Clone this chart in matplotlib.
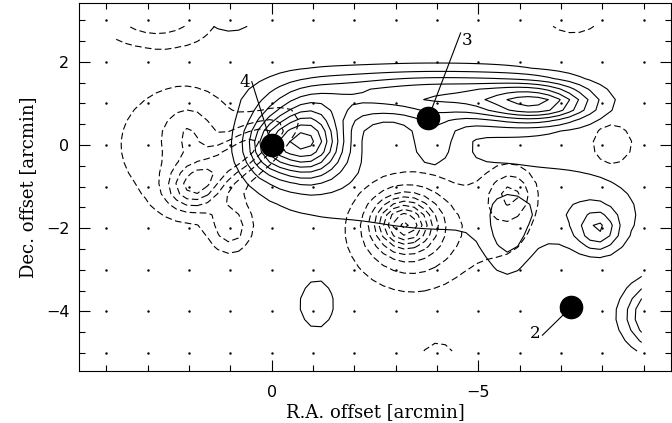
import numpy as np
import matplotlib.pyplot as plt
from matplotlib.ticker import MultipleLocator

# emission components: x0, y0, amplitude, sigma_x, sigma_y, angle(deg)
solid_x0 = [-0.85, 0.05, -0.8, -6.55, -5.8, -3.5, -3.9, -4.0, -7.9, -7.5, -5.7, -1.09, -9.6, 1.0]
solid_y0 = [0.1, 0.0, 0.1, 1.0, 1.05, 1.2, 0.1, -1.2, -2.05, -1.6, -2.3, -3.85, -4.1, 3.0]
solid_amp = [6.0, 3.0, 3.0, 4.5, 2.0, 4.5, 2.0, 1.5, 3.0, 1.3, 1.6, 1.3, 6.5, 1.5]
solid_sx = [0.55, 0.4, 1.0, 0.85, 1.2, 2.0, 0.45, 2.5, 0.35, 1.2, 0.4, 0.55, 0.65, 0.55]
solid_sy = [0.55, 0.45, 0.85, 0.3, 0.45, 0.42, 0.45, 0.9, 0.35, 0.7, 0.7, 0.75, 0.55, 0.3]
solid_ang = [0, 0, 0, 0, 0, 0, 0, 0, 0, 0, 0, 0, 0, 0]

dash_x0 = [-3.2, -3.4, -5.8, -5.7, 1.9, 0.7, 1.0, 2.2, 2.0, -8.24, 2.8, -7.3, -4.03]
dash_y0 = [-1.88, -2.1, -1.15, -1.6, -1.0, -0.15, -2.0, 0.0, 0.25, 0.02, 3.05, 3.0, -5.05]
dash_amp = [6.0, 3.5, 2.0, 1.5, 3.5, 3.8, 2.5, 1.7, 1.5, 1.3, 2.6, 1.5, 1.5]
dash_sx = [0.45, 1.0, 0.35, 0.6, 0.45, 0.9, 0.35, 1.4, 0.4, 0.65, 1.0, 0.63, 0.4]
dash_sy = [0.4, 0.9, 0.35, 0.9, 0.4, 0.32, 0.4, 1.3, 0.45, 0.65, 0.45, 0.35, 0.32]
dash_ang = [0, 0, 0, 0, 0, -34, 0, 0, 0, 0, 0, 0, 0]

levels = [1, 2, 3, 4, 5, 6, 7, 8, 9]

# mapped area
map_x = [-8.95, 3.8]
map_y = [-4.95, 2.85]

# sources
src_x = [0.0, -3.79, -7.25]
src_y = [0.0, 0.65, -3.89]
src_name = ['4', '3', '2']
lab_x = [0.65, -4.73, -6.38]
lab_y = [1.49, 2.52, -4.54]
lead_x = [0.48, -4.57, -6.55]
lead_y = [1.52, 2.69, -4.57]


def field(xx, yy, x0, y0, amp, sx, sy, ang):
    z = np.zeros_like(xx)
    for a, b, c, d, e, t in zip(x0, y0, amp, sx, sy, ang):
        t = np.radians(t)
        dx = xx - a
        dy = yy - b
        u = dx * np.cos(t) + dy * np.sin(t)
        v = -dx * np.sin(t) + dy * np.cos(t)
        z += c * np.exp(-0.5 * ((u / d) ** 2 + (v / e) ** 2))
    return z


gx = np.linspace(map_x[0], map_x[1], 52)
gy = np.linspace(map_y[0], map_y[1], 32)
xx, yy = np.meshgrid(gx, gy)
zs = field(xx, yy, solid_x0, solid_y0, solid_amp, solid_sx, solid_sy, solid_ang)
zd = field(xx, yy, dash_x0, dash_y0, dash_amp, dash_sx, dash_sy, dash_ang)

fig = plt.figure(figsize=(6.72, 4.23), dpi=100)
ax = fig.add_axes([79 / 672, 52 / 423, 592 / 672, 368 / 423])

ax.contour(xx, yy, zs, levels=levels, colors='black', linewidths=0.8,
           linestyles='solid')
cd = ax.contour(xx, yy, zd, levels=levels, colors='black', linewidths=0.8)
cd.set_linestyle((0, (6, 3)))

# dot grid
dx, dy = np.meshgrid(np.arange(-9, 5), np.arange(-5, 4))
ax.plot(dx.ravel(), dy.ravel(), 'k.', ms=1.5)

ax.plot(src_x, src_y, 'ko', ms=16)
for i in range(3):
    ax.plot([lead_x[i], src_x[i]], [lead_y[i], src_y[i]], 'k-', lw=0.8)
    ax.text(lab_x[i], lab_y[i], src_name[i], ha='center', va='center',
            fontsize=12, family='DejaVu Serif')

ax.set_xlim(4.66, -9.66)
ax.set_ylim(-5.43, 3.41)

ax.xaxis.set_major_locator(MultipleLocator(5))
ax.xaxis.set_minor_locator(MultipleLocator(1))
ax.yaxis.set_major_locator(MultipleLocator(2))
ax.yaxis.set_minor_locator(MultipleLocator(0.5))
ax.tick_params(which='both', direction='in', top=True, right=True, width=0.8,
               labelsize=11.5)
ax.tick_params(which='major', length=8)
ax.tick_params(which='minor', length=4)
ax.tick_params(axis='x', pad=10)
ax.tick_params(axis='y', pad=7)
for s in ax.spines.values():
    s.set_linewidth(0.8)

ax.set_xlabel('R.A. offset [arcmin]', fontsize=13, family='DejaVu Serif',
              labelpad=2)
ax.set_ylabel('Dec. offset [arcmin]', fontsize=13, family='DejaVu Serif',
              labelpad=6)

fig.savefig('out.png', dpi=100)
